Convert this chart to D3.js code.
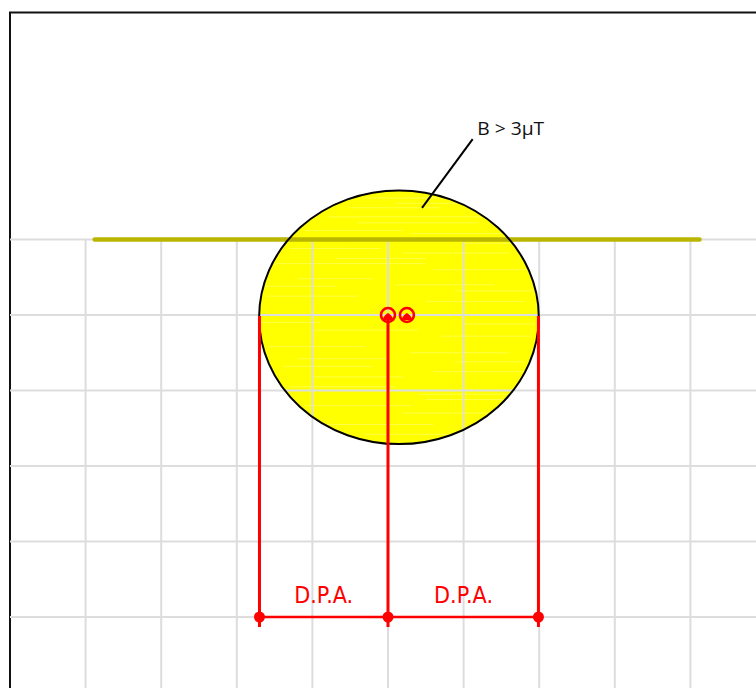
<!DOCTYPE html>
<html><head><meta charset="utf-8">
<script src="https://cdnjs.cloudflare.com/ajax/libs/d3/7.8.5/d3.min.js"></script>
<style>html,body{margin:0;padding:0;background:#fff;overflow:hidden}svg{display:block}</style>
</head><body><svg id="c" width="756" height="688"></svg>
<script>
// Data units: x = grid cells from the central conductor, y = grid rows below the conductor line
const gridX = [-4,-3,-2,-1,0,1,2,3,4];
const gridY = [0,1,2,3,4,5];
const conductorLine = [-3.88,4.12];
const ellipse = {cx:0.145, cy:1.03, rx:1.85, ry:1.68};
const conductors = [[0,1],[0.25,1]];
const dropX = [-1.7,0,1.99];
const dpaLabels = [{x:-0.85,text:"D.P.A."},{x:1,text:"D.P.A."}];
const leader = [[1.12,-1.33],[0.45,-0.42]];
const leaderLabel = {x:1.18,y:-1.38,text:"B > 3µT"};
// Pale pen streaks in the marker fill: [x0, x1, y]
const streaks = [
 [-0.3,0.9,-0.55],[0.1,1.1,-0.48],[-0.5,0.7,-0.42],[-0.8,1.5,-0.3],[-0.4,1.2,-0.22],[-1.1,0.2,-0.12],[0.3,1.7,-0.08],
 [-1.3,-0.1,0.12],[0.2,1.6,0.18],[-1.5,0.5,0.32],[0.6,1.9,0.4],[-1.2,-0.2,0.52],[0.1,1.4,0.6],
 [-1.6,-0.4,0.75],[0.5,1.8,0.82],[-1.0,0.4,1.2],[0.7,1.9,1.28],[-1.6,-0.3,1.42],[0.3,1.6,1.5],
 [-1.4,-0.2,1.68],[0.6,1.9,1.75],[-1.3,0.1,1.95],[0.4,1.8,2.05],[-1.1,0.3,2.2],[0.2,1.6,2.3],[-0.9,0.6,2.45],[-0.3,1.0,2.58],
 [-1.5,-0.6,0.02],[1.0,1.9,0.05],[-0.7,0.5,0.25],[-1.7,-0.7,0.62],[0.9,1.95,0.68],[-1.75,-0.9,1.1],[1.0,1.95,1.12],[-1.2,0.0,1.58],[0.9,1.8,1.62],[-1.0,0.2,1.82],[0.5,1.6,2.12]
];
const x = d3.scaleLinear().domain([0,1]).range([388,463.6]);
const y = d3.scaleLinear().domain([0,1]).range([239.5,315]);
const svg = d3.select("#c");
const RED = "#ff0000";
svg.append("path").attr("d","M10,688V12.5H756").attr("fill","none").attr("stroke","#111").attr("stroke-width",2);
const defs = svg.append("defs");
defs.append("clipPath").attr("id","e").append("ellipse")
 .attr("cx",x(ellipse.cx)).attr("cy",y(ellipse.cy)).attr("rx",x(ellipse.rx)-x(0)).attr("ry",y(ellipse.ry)-y(0));
svg.append("ellipse").attr("cx",x(ellipse.cx)).attr("cy",y(ellipse.cy))
 .attr("rx",x(ellipse.rx)-x(0)).attr("ry",y(ellipse.ry)-y(0)).attr("fill","#ffff00");
svg.append("g").attr("clip-path","url(#e)").selectAll("line").data(streaks).join("line")
 .attr("x1",d=>x(d[0])).attr("x2",d=>x(d[1])).attr("y1",d=>y(d[2])).attr("y2",d=>y(d[2]))
 .attr("stroke","#ffff66").attr("stroke-width",1).attr("opacity",.7);
const g = svg.append("g").attr("stroke","#dddddd").attr("stroke-width",2);
g.selectAll(".v").data(gridX).join("line").attr("x1",x).attr("x2",x).attr("y1",y(0)).attr("y2",688);
g.selectAll(".h").data(gridY).join("line").attr("x1",10).attr("x2",756).attr("y1",y).attr("y2",y);
svg.append("line").attr("x1",x(conductorLine[0])).attr("x2",x(conductorLine[1])).attr("y1",y(0)).attr("y2",y(0))
 .attr("stroke","#bab600").attr("stroke-width",4.5).attr("stroke-linecap","round");
svg.append("ellipse").attr("cx",x(ellipse.cx)).attr("cy",y(ellipse.cy))
 .attr("rx",x(ellipse.rx)-x(0)).attr("ry",y(ellipse.ry)-y(0)).attr("fill","none").attr("stroke","#000").attr("stroke-width",2);
svg.append("line").attr("x1",x(leader[0][0])).attr("y1",y(leader[0][1])).attr("x2",x(leader[1][0])).attr("y2",y(leader[1][1]))
 .attr("stroke","#000").attr("stroke-width",2);
svg.append("text").attr("x",x(leaderLabel.x)).attr("y",y(leaderLabel.y)).attr("font-family","Open Sans, sans-serif").attr("font-size",18).attr("textLength",67).attr("lengthAdjust","spacingAndGlyphs").attr("fill","#111").text(leaderLabel.text);
const r = svg.append("g");
r.selectAll(".d").data(dropX).join("line").attr("x1",x).attr("x2",x).attr("y1",y(1)+1).attr("y2",y(5)+10).attr("stroke",RED).attr("stroke-width",3);
r.append("line").attr("x1",x(dropX[0])).attr("x2",x(dropX[2])).attr("y1",y(5)).attr("y2",y(5)).attr("stroke",RED).attr("stroke-width",2.5);
r.selectAll(".dot").data(dropX).join("circle").attr("cx",x).attr("cy",y(5)).attr("r",5.5).attr("fill",RED);
const cg = svg.append("g").selectAll("g").data(conductors).join("g").attr("transform",d=>`translate(${x(d[0])},${y(d[1])})`);
cg.append("circle").attr("r",7).attr("fill","none").attr("stroke",RED).attr("stroke-width",2.6);
cg.append("path").attr("d","M-5.5,5 Q-4,0 0,-2 Q4,0 5.5,5 Z").attr("fill",RED);
svg.append("g").selectAll("text").data(dpaLabels).join("text").attr("x",d=>x(d.x)).attr("y",y(5)-14).attr("text-anchor","middle")
 .attr("font-family","DejaVu Sans, sans-serif").attr("font-size",23).attr("textLength",59).attr("lengthAdjust","spacingAndGlyphs").attr("fill",RED).text(d=>d.text);
</script></body></html>
